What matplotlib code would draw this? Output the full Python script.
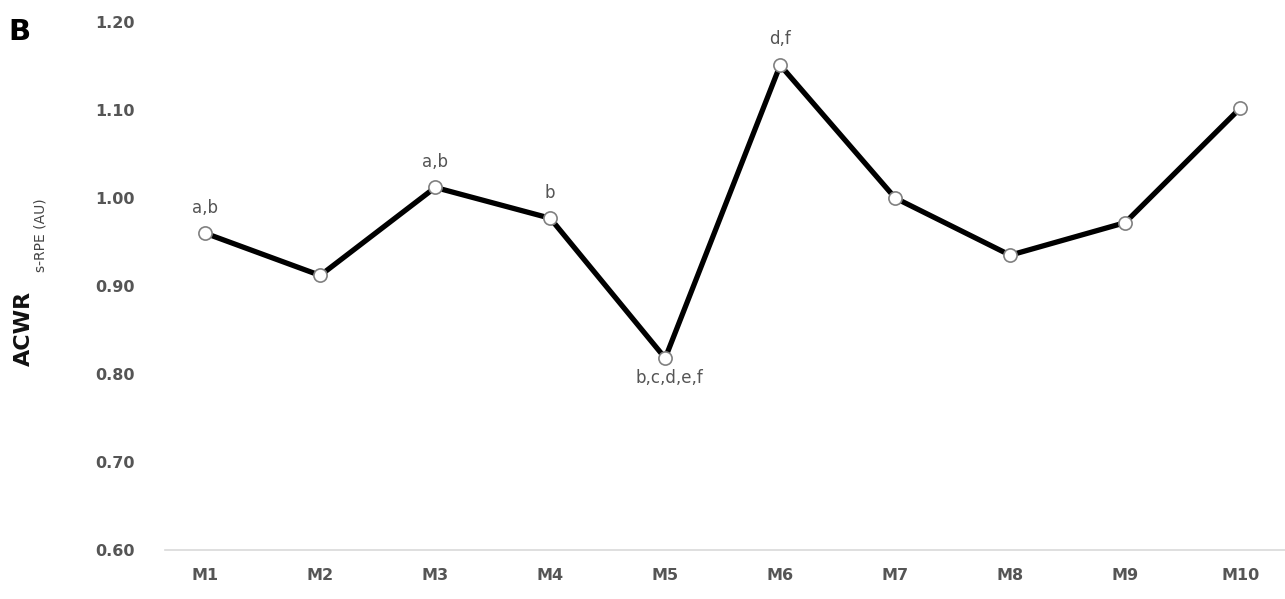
import matplotlib.pyplot as plt

# Monthly acute:chronic workload ratio (s-RPE based)
months = ["M1", "M2", "M3", "M4", "M5", "M6", "M7", "M8", "M9", "M10"]
acwr = [0.960, 0.912, 1.012, 0.977, 0.818, 1.151, 1.000, 0.935, 0.972, 1.102]
# Significance letters: (month index, text, placement)
sig_idx = [0, 2, 3, 4, 5]
sig_txt = ["a,b", "a,b", "b", "b,c,d,e,f", "d,f"]
sig_pos = ["above", "above", "above", "below", "above"]
yticks = [0.60, 0.70, 0.80, 0.90, 1.00, 1.10, 1.20]

fig = plt.figure(figsize=(12.85, 5.99), dpi=100)
ax = fig.add_axes([165 / 1285, 1 - 550 / 599, 1120 / 1285, 528 / 599])

x = list(range(len(months)))
ax.plot(x, acwr, color="black", lw=3.8, zorder=2)
ax.plot(x, acwr, ls="none", marker="o", ms=9.5, mfc="white", mec="#808080",
        mew=1.2, zorder=3, clip_on=False)

for i, t, p in zip(sig_idx, sig_txt, sig_pos):
    if p == "above":
        ax.annotate(t, (i, acwr[i]), xytext=(0, 12), textcoords="offset points",
                    ha="center", va="bottom", fontsize=12, color="#555555")
    else:
        ax.annotate(t, (i, acwr[i]), xytext=(3, -8), textcoords="offset points",
                    ha="center", va="top", fontsize=12, color="#555555")

ax.set_xlim(-0.35, 9.39)
ax.set_ylim(0.60, 1.20)
ax.set_xticks(x)
ax.set_xticklabels(months)
ax.set_yticks(yticks)
ax.set_yticklabels([f"{v:.2f}" for v in yticks])
for lab in ax.get_xticklabels() + ax.get_yticklabels():
    lab.set_fontweight("bold")
    lab.set_color("#555555")
    lab.set_fontsize(11.5)
ax.tick_params(axis="both", length=0)
ax.tick_params(axis="y", pad=22)
ax.tick_params(axis="x", pad=13)

for s in ["top", "right", "left"]:
    ax.spines[s].set_visible(False)
ax.spines["bottom"].set_color("#d9d9d9")
ax.spines["bottom"].set_linewidth(1.2)

fig.text(8 / 1285, 1 - 32 / 599, "B", fontsize=21, fontweight="bold",
         ha="left", va="center")
fig.text(24 / 1285, 1 - 328 / 599, "ACWR", rotation=90,
         fontsize=16, fontweight="bold", ha="center", va="center",
         color="#111111")
fig.text(40 / 1285, 1 - 235 / 599, "s-RPE (AU)", rotation=90,
         fontsize=10, ha="center", va="center", color="#444444")

fig.savefig("out.png", dpi=100, facecolor="white")
